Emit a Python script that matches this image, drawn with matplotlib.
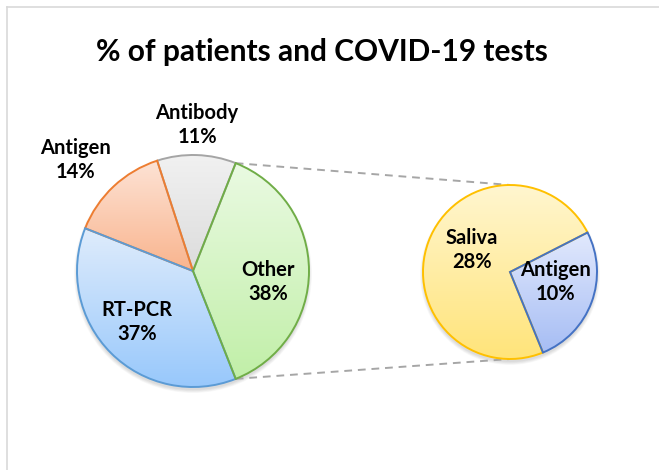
import matplotlib
matplotlib.use("Agg")
import matplotlib.pyplot as plt
import numpy as np

# ---- data ----
title = "% of patients and COVID-19 tests"
main_labels = ["Antibody", "Antigen", "RT-PCR", "Other"]
main_values = [11, 14, 37, 38]
sub_labels = ["Saliva", "Antigen"]
sub_values = [28, 10]

main_grad = [("#f1f1f1", "#dcdcdc"), ("#fde3d5", "#f9b48e"),
             ("#dfecfc", "#98c8fb"), ("#eafae2", "#c1efa8")]
main_edge = ["#a5a5a5", "#ed7d31", "#5b9bd5", "#70ad47"]
sub_grad = [("#fff6cf", "#ffe47a"), ("#e2e9fd", "#a6bdf4")]
sub_edge = ["#ffc000", "#4472c4"]

W, H = 659, 470
fig = plt.figure(figsize=(W / 100, H / 100), dpi=100)
ax = fig.add_axes([0, 0, 1, 1])

FONT = "Lato"

def py(y):
    return H - y

main_c = (193, py(271))
main_r = 116
sub_c = (510, py(272))
sub_r = 87

def shadow(center, r):
    for k in range(6):
        c = plt.Circle((center[0], center[1] - 3), r + 3 - k * 0.6,
                       color="black", alpha=0.025, lw=0, zorder=0.5)
        ax.add_patch(c)

shadow(main_c, main_r)
shadow(sub_c, sub_r)

def grad_pie(values, center, r, start, grads, edges):
    wedges, _ = ax.pie(values, center=center, radius=r, startangle=start,
                       counterclock=True, colors=[g[1] for g in grads],
                       wedgeprops=dict(linewidth=1.4, zorder=2), frame=True)
    for w, g, e in zip(wedges, grads, edges):
        w.set_edgecolor(e)
        w.set_zorder(3)
        ext = w.get_path().get_extents()
        c1 = np.array(matplotlib.colors.to_rgb(g[0]))
        c2 = np.array(matplotlib.colors.to_rgb(g[1]))
        t = np.linspace(0, 1, 128)[:, None]
        img = (c1 * (1 - t) + c2 * t)[:, None, :]
        im = ax.imshow(img, extent=[ext.x0, ext.x1, ext.y0, ext.y1],
                       origin="upper", aspect="auto", zorder=2.5,
                       interpolation="bilinear")
        im.set_clip_path(w)
        w.set_facecolor("none")
    return wedges

total = sum(main_values)
other_frac = main_values[-1] / total
main_start = other_frac * 180
grad_pie(main_values, main_c, main_r, main_start, main_grad, main_edge)
grad_pie(sub_values, sub_c, sub_r, 27, sub_grad, sub_edge)

# connector lines
a = np.deg2rad(main_start)
ax.plot([main_c[0] + main_r * np.cos(a), sub_c[0]],
        [main_c[1] + main_r * np.sin(a), sub_c[1] + sub_r],
        color="#a6a6a6", lw=1.4, ls=(0, (4, 3)), zorder=1)
ax.plot([main_c[0] + main_r * np.cos(a), sub_c[0]],
        [main_c[1] - main_r * np.sin(a), sub_c[1] - sub_r],
        color="#a6a6a6", lw=1.4, ls=(0, (4, 3)), zorder=1)

# labels
lab_pos_main = [(197, 125), (75, 160), (137, 322), (268, 282)]
lab_pos_sub = [(472, 250), (555, 282)]
for (lx, ly), name, v in zip(lab_pos_main, main_labels, main_values):
    ax.text(lx, py(ly), f"{name}\n{v}%", ha="center", va="center",
            fontsize=14.5, fontweight="bold", family=FONT, linespacing=1.3,
            color="black", zorder=5)
for (lx, ly), name, v in zip(lab_pos_sub, sub_labels, sub_values):
    ax.text(lx, py(ly), f"{name}\n{v}%", ha="center", va="center",
            fontsize=14.5, fontweight="bold", family=FONT, linespacing=1.3,
            color="black", zorder=5)

ax.text(322, py(52), title, ha="center", va="center", fontsize=21.5,
        fontweight="bold", family=FONT, color="black")

# chart border (top and left visible)
ax.plot([7, W], [py(7), py(7)], color="#d9d9d9", lw=1.2, zorder=1)
ax.plot([7, 7], [py(7), 0], color="#d9d9d9", lw=1.2, zorder=1)

ax.set_xlim(0, W)
ax.set_ylim(0, H)
ax.set_aspect("auto")
ax.axis("off")
fig.savefig("out.png", dpi=100)
